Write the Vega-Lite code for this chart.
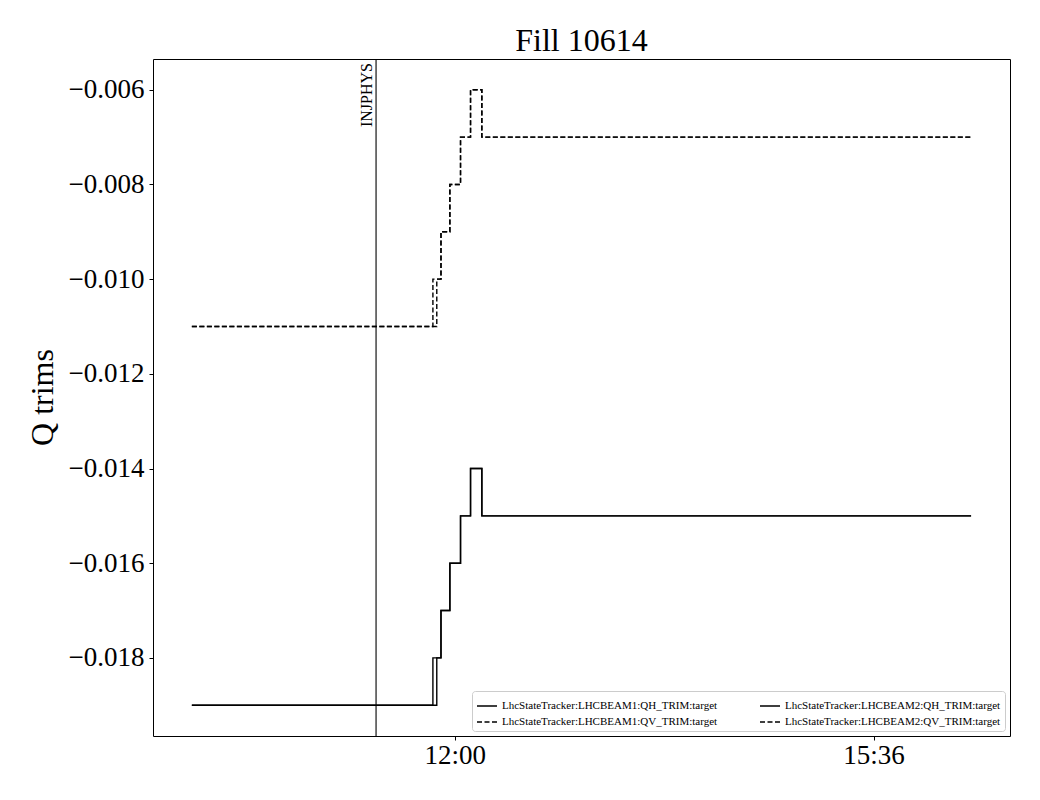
{
  "$schema": "https://vega.github.io/schema/vega-lite/v6.json",
  "width": 857,
  "height": 677,
  "autosize": {"type": "none"},
  "padding": {"left": 153, "top": 59, "right": 30, "bottom": 64},
  "background": "white",
  "title": {"text": "Fill 10614", "font": "Liberation Serif", "fontSize": 32, "fontWeight": "normal", "color": "black", "anchor": "middle", "frame": "group", "offset": 0},
  "config": {
    "view": {"stroke": "black", "strokeWidth": 1},
    "axis": {"grid": false, "domain": false, "tickColor": "black", "tickSize": 4, "labelColor": "black", "labelFont": "Liberation Serif", "labelFontSize": 27, "titleFont": "Liberation Serif", "titleColor": "black", "titleFontWeight": "normal"}
  },
  "datasets": {
    "trims": [
      {"t": "2025-05-12T09:44:18Z", "v": -0.019, "s": "LhcStateTracker:LHCBEAM1:QH_TRIM:target"},
      {"t": "2025-05-12T11:48:40Z", "v": -0.018, "s": "LhcStateTracker:LHCBEAM1:QH_TRIM:target"},
      {"t": "2025-05-12T11:52:50Z", "v": -0.017, "s": "LhcStateTracker:LHCBEAM1:QH_TRIM:target"},
      {"t": "2025-05-12T11:57:25Z", "v": -0.016, "s": "LhcStateTracker:LHCBEAM1:QH_TRIM:target"},
      {"t": "2025-05-12T12:02:55Z", "v": -0.015, "s": "LhcStateTracker:LHCBEAM1:QH_TRIM:target"},
      {"t": "2025-05-12T12:08:05Z", "v": -0.014, "s": "LhcStateTracker:LHCBEAM1:QH_TRIM:target"},
      {"t": "2025-05-12T12:13:55Z", "v": -0.015, "s": "LhcStateTracker:LHCBEAM1:QH_TRIM:target"},
      {"t": "2025-05-12T16:26:20Z", "v": -0.015, "s": "LhcStateTracker:LHCBEAM1:QH_TRIM:target"},
      {"t": "2025-05-12T09:44:18Z", "v": -0.019, "s": "LhcStateTracker:LHCBEAM2:QH_TRIM:target"},
      {"t": "2025-05-12T11:50:40Z", "v": -0.018, "s": "LhcStateTracker:LHCBEAM2:QH_TRIM:target"},
      {"t": "2025-05-12T11:52:50Z", "v": -0.017, "s": "LhcStateTracker:LHCBEAM2:QH_TRIM:target"},
      {"t": "2025-05-12T11:57:25Z", "v": -0.016, "s": "LhcStateTracker:LHCBEAM2:QH_TRIM:target"},
      {"t": "2025-05-12T12:02:55Z", "v": -0.015, "s": "LhcStateTracker:LHCBEAM2:QH_TRIM:target"},
      {"t": "2025-05-12T12:08:05Z", "v": -0.014, "s": "LhcStateTracker:LHCBEAM2:QH_TRIM:target"},
      {"t": "2025-05-12T12:13:55Z", "v": -0.015, "s": "LhcStateTracker:LHCBEAM2:QH_TRIM:target"},
      {"t": "2025-05-12T16:26:20Z", "v": -0.015, "s": "LhcStateTracker:LHCBEAM2:QH_TRIM:target"},
      {"t": "2025-05-12T09:44:18Z", "v": -0.011, "s": "LhcStateTracker:LHCBEAM1:QV_TRIM:target"},
      {"t": "2025-05-12T11:48:40Z", "v": -0.010, "s": "LhcStateTracker:LHCBEAM1:QV_TRIM:target"},
      {"t": "2025-05-12T11:52:50Z", "v": -0.009, "s": "LhcStateTracker:LHCBEAM1:QV_TRIM:target"},
      {"t": "2025-05-12T11:57:25Z", "v": -0.008, "s": "LhcStateTracker:LHCBEAM1:QV_TRIM:target"},
      {"t": "2025-05-12T12:02:55Z", "v": -0.007, "s": "LhcStateTracker:LHCBEAM1:QV_TRIM:target"},
      {"t": "2025-05-12T12:08:05Z", "v": -0.006, "s": "LhcStateTracker:LHCBEAM1:QV_TRIM:target"},
      {"t": "2025-05-12T12:13:55Z", "v": -0.007, "s": "LhcStateTracker:LHCBEAM1:QV_TRIM:target"},
      {"t": "2025-05-12T16:26:20Z", "v": -0.007, "s": "LhcStateTracker:LHCBEAM1:QV_TRIM:target"},
      {"t": "2025-05-12T09:44:18Z", "v": -0.011, "s": "LhcStateTracker:LHCBEAM2:QV_TRIM:target"},
      {"t": "2025-05-12T11:50:40Z", "v": -0.010, "s": "LhcStateTracker:LHCBEAM2:QV_TRIM:target"},
      {"t": "2025-05-12T11:52:50Z", "v": -0.009, "s": "LhcStateTracker:LHCBEAM2:QV_TRIM:target"},
      {"t": "2025-05-12T11:57:25Z", "v": -0.008, "s": "LhcStateTracker:LHCBEAM2:QV_TRIM:target"},
      {"t": "2025-05-12T12:02:55Z", "v": -0.007, "s": "LhcStateTracker:LHCBEAM2:QV_TRIM:target"},
      {"t": "2025-05-12T12:08:05Z", "v": -0.006, "s": "LhcStateTracker:LHCBEAM2:QV_TRIM:target"},
      {"t": "2025-05-12T12:13:55Z", "v": -0.007, "s": "LhcStateTracker:LHCBEAM2:QV_TRIM:target"},
      {"t": "2025-05-12T16:26:20Z", "v": -0.007, "s": "LhcStateTracker:LHCBEAM2:QV_TRIM:target"}
    ],
    "modes": [
      {"t": "2025-05-12T11:19:20Z", "label": "INJPHYS"}
    ]
  },
  "layer": [
    {
      "data": {"name": "trims"},
      "mark": {"type": "line", "interpolate": "step-after", "color": "black", "strokeWidth": 1.4},
      "encoding": {
        "x": {
          "field": "t", "type": "temporal",
          "scale": {"type": "utc", "domain": [
            {"year": 2025, "month": 5, "date": 12, "hours": 9, "minutes": 24, "seconds": 15, "utc": true},
            {"year": 2025, "month": 5, "date": 12, "hours": 16, "minutes": 46, "seconds": 25, "utc": true}
          ]},
          "axis": {
            "title": null,
            "labelExpr": "utcFormat(datum.value, '%H:%M')",
            "labelPadding": 2,
            "values": [
              {"year": 2025, "month": 5, "date": 12, "hours": 12, "minutes": 0, "utc": true},
              {"year": 2025, "month": 5, "date": 12, "hours": 15, "minutes": 36, "utc": true}
            ]
          }
        },
        "y": {
          "field": "v", "type": "quantitative",
          "scale": {"domain": [-0.01965, -0.00535], "nice": false, "zero": false},
          "axis": {
            "title": "Q trims",
            "titleFontSize": 32,
            "titleAngle": -90,
            "titleAlign": "center",
            "titleBaseline": "middle",
            "titleX": -111,
            "titleY": 338,
            "format": ".3f",
            "labelPadding": 5,
            "values": [-0.018, -0.016, -0.014, -0.012, -0.010, -0.008, -0.006]
          }
        },
        "strokeDash": {
          "field": "s", "type": "nominal",
          "scale": {
            "domain": ["LhcStateTracker:LHCBEAM1:QH_TRIM:target", "LhcStateTracker:LHCBEAM1:QV_TRIM:target", "LhcStateTracker:LHCBEAM2:QH_TRIM:target", "LhcStateTracker:LHCBEAM2:QV_TRIM:target"],
            "range": [[1, 0], [5, 2.5], [1, 0], [5, 2.5]]
          },
          "legend": {
            "title": null,
            "orient": "bottom-right",
            "offset": 5,
            "columns": 2,
            "columnPadding": 39,
            "rowPadding": -3,
            "padding": 4,
            "strokeColor": "#cccccc",
            "fillColor": "white",
            "cornerRadius": 3,
            "symbolType": "stroke",
            "symbolSize": 400,
            "symbolStrokeColor": "black",
            "symbolStrokeWidth": 1.3,
            "symbolDash": null,
            "labelFont": "Liberation Serif",
            "labelFontSize": 11,
            "labelColor": "black",
            "labelOffset": 4,
            "labelLimit": 400
          }
        }
      }
    },
    {
      "data": {"name": "modes"},
      "mark": {"type": "rule", "color": "black", "strokeWidth": 1.1},
      "encoding": {
        "x": {"field": "t", "type": "temporal"}
      }
    },
    {
      "data": {"name": "modes"},
      "mark": {"type": "text", "angle": 270, "align": "right", "baseline": "alphabetic", "dx": -4, "dy": -4, "font": "Liberation Serif", "fontSize": 16, "color": "black"},
      "encoding": {
        "x": {"field": "t", "type": "temporal"},
        "y": {"datum": -0.00535},
        "text": {"field": "label"}
      }
    }
  ]
}
